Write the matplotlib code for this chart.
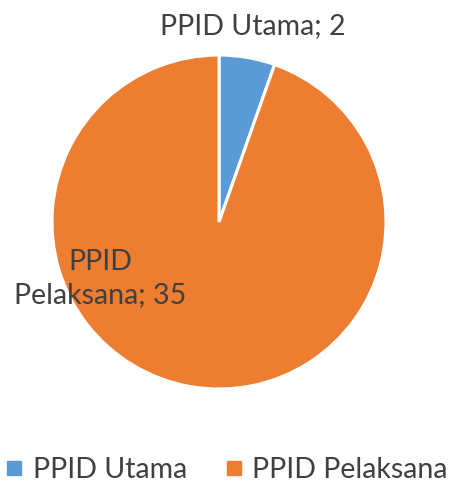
import matplotlib
matplotlib.use('Agg')
import matplotlib.pyplot as plt
from matplotlib.lines import Line2D

# Data
categories = ['PPID Utama', 'PPID Pelaksana']
values = [2, 35]
colors = ['#5B9BD5', '#ED7D31']
text_color = '#404040'

plt.rcParams['font.family'] = ['Lato', 'DejaVu Sans']

fig = plt.figure(figsize=(4.61, 4.90), dpi=100)
ax = fig.add_axes([0.1128, 0.2061, 0.7245, 0.6816])

labels = ['%s; %d' % (c, v) for c, v in zip(categories, values)]
wedges, texts = ax.pie(values, colors=colors, startangle=90, counterclock=False,
                       radius=1, labels=labels, labeldistance=1.19,
                       wedgeprops=dict(edgecolor='white', linewidth=2.2),
                       textprops=dict(color=text_color, fontsize=20.5))
texts[0].set_ha('center')
texts[0].set_va('center')
# Excel put the big label inside the slice, on the left
texts[1].set_text('PPID\nPelaksana; 35')
texts[1].set_position((-0.71, -0.34))
texts[1].set_ha('center')
texts[1].set_va('center')
texts[1].set_multialignment('center')
texts[1].set_linespacing(1.35)

ax.set_xlim(-1, 1)
ax.set_ylim(-1, 1)
ax.set_aspect('equal')
ax.axis('off')

handles = [Line2D([], [], marker='s', linestyle='none', markersize=9.5,
                  markerfacecolor=c, markeredgecolor=c) for c in colors]
fig.legend(handles, categories, loc='center', ncol=2, frameon=False,
           bbox_to_anchor=(0.49, 1 - 470 / 490), fontsize=20.5,
           labelcolor=text_color, handletextpad=0.3, columnspacing=1.3,
           handlelength=0.7)

fig.savefig('out.png', dpi=100, facecolor='white')
